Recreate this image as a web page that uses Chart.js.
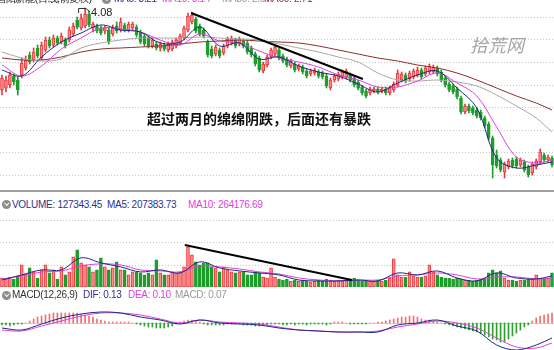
<!DOCTYPE html>
<html>
<head>
<meta charset="utf-8">
<script src="https://cdn.jsdelivr.net/npm/chart.js@4.4.1/dist/chart.umd.min.js"></script>
<style>
  html, body { margin: 0; padding: 0; background: #fff; }
  #wrap { position: relative; width: 554px; height: 350px; overflow: hidden; font-family: "Liberation Sans", Arial, sans-serif; }
  #wrap canvas { position: absolute; left: 0; }
  .hd { position: absolute; font-size: 10px; line-height: 12px; white-space: nowrap; letter-spacing: -0.3px; }
  .ico { position: absolute; width: 9px; height: 9px; border-radius: 50%; background: #8c8c8c; }
  .ico:after { content: ''; position: absolute; left: 2.6px; top: 1.4px; width: 2.6px; height: 2.6px; border-right: 1.2px solid #fff; border-bottom: 1.2px solid #fff; transform: rotate(45deg); }
  .sep { position: absolute; left: 0; width: 554px; height: 2px; background: #a0a0a0; }
  .note { position: absolute; left: 147px; top: 108px; font: bold 14px "Noto Sans CJK SC", sans-serif; color: #111; white-space: nowrap; }
  .mark { position: absolute; left: 470px; top: 31px; font: italic 18px "Noto Sans CJK SC", sans-serif; color: #a6a6a6; white-space: nowrap; }
</style>
</head>
<body>
<div id="wrap">
  <canvas id="k-chart" width="554" height="189" style="top:0"></canvas>
  <canvas id="vol-chart" width="554" height="75" style="top:212px"></canvas>
  <canvas id="macd-chart" width="554" height="51" style="top:300px"></canvas>

  <div class="hd" style="left:-4px;top:-7px;color:#222;">国阳新能(日线,前复权)</div>
  <div class="ico" style="left:102px;top:-5px;"></div>
  <div class="hd" style="left:114px;top:-7px;color:#2b3190;">MA5: 3.21</div>
  <div class="hd" style="left:162px;top:-7px;color:#e040e0;">MA10: 3.14</div>
  <div class="hd" style="left:222px;top:-7px;color:#999;">MA30: 2.67</div>
  <div class="hd" style="left:264px;top:-7px;color:#8b2e2e;">MA60: 2.71</div>

  <div class="sep" style="top:190px;"></div>

  <div class="ico" style="left:2px;top:200px;"></div>
  <div class="hd" style="left:12px;top:199px;color:#2b3190;">VOLUME: 127343.45</div>
  <div class="hd" style="left:107px;top:199px;color:#2b3190;">MA5: 207383.73</div>
  <div class="hd" style="left:188px;top:199px;color:#e040e0;">MA10: 264176.69</div>

  <div class="ico" style="left:2px;top:291px;"></div>
  <div class="hd" style="left:12px;top:289px;color:#333;">MACD(12,26,9)</div>
  <div class="hd" style="left:83px;top:289px;color:#2b3190;">DIF: 0.13</div>
  <div class="hd" style="left:128px;top:289px;color:#e040e0;">DEA: 0.10</div>
  <div class="hd" style="left:175px;top:289px;color:#999;">MACD: 0.07</div>

  <div class="note">超过两月的绵绵阴跌，后面还有暴跌</div>
  <div class="mark">拾荒网</div>
</div>

<script>
/* 日K + 成交量 + MACD 三栏图 */

// ---- 日K (price) ----
var open = [
  3.26,3.28,3.31,3.40,3.36,3.41,3.48,3.61,3.56,3.68,
  3.58,3.66,3.76,3.71,3.78,3.74,3.76,3.76,3.82,3.96,
  3.88,3.90,4.02,3.88,3.90,3.88,3.85,3.86,3.82,3.90,
  3.86,3.91,3.86,3.88,3.89,3.84,3.80,3.78,3.70,3.72,
  3.68,3.71,3.66,3.67,3.70,3.73,3.78,3.86,3.94,3.97,
  3.90,3.86,3.74,3.67,3.62,3.66,3.63,3.70,3.73,3.76,
  3.72,3.75,3.73,3.68,3.62,3.58,3.45,3.51,3.59,3.62,
  3.66,3.60,3.57,3.50,3.52,3.47,3.49,3.45,3.42,3.43,
  3.44,3.43,3.40,3.28,3.36,3.37,3.39,3.39,3.41,3.38,
  3.34,3.29,3.25,3.23,3.25,3.27,3.25,3.27,3.23,3.26,
  3.31,3.36,3.41,3.37,3.39,3.41,3.46,3.42,3.44,3.44,
  3.48,3.44,3.38,3.32,3.30,3.27,3.18,3.04,3.10,3.08,
  3.06,3.04,2.98,2.92,2.78,2.61,2.56,2.44,2.49,2.56,
  2.57,2.51,2.54,2.49,2.43,2.49,2.54,2.61,2.56,2.58
];
var high = [
  3.41,3.40,3.44,3.42,3.39,3.58,3.60,3.64,3.68,3.71,
  3.74,3.79,3.79,3.81,3.80,3.83,3.78,3.89,3.93,3.99,
  4.02,4.08,4.05,3.94,3.92,3.90,3.90,3.88,3.91,3.94,
  3.98,3.93,3.94,3.94,3.91,3.86,3.82,3.80,3.78,3.74,
  3.74,3.73,3.74,3.76,3.78,3.82,3.90,4.03,4.04,3.99,
  3.92,3.88,3.76,3.70,3.71,3.68,3.72,3.79,3.80,3.78,
  3.79,3.77,3.75,3.70,3.64,3.60,3.54,3.61,3.68,3.71,
  3.68,3.62,3.59,3.57,3.54,3.52,3.51,3.47,3.47,3.48,
  3.46,3.45,3.42,3.38,3.42,3.44,3.46,3.47,3.43,3.40,
  3.36,3.31,3.27,3.29,3.29,3.29,3.29,3.29,3.30,3.34,
  3.46,3.44,3.43,3.45,3.47,3.49,3.48,3.50,3.52,3.51,
  3.50,3.46,3.40,3.34,3.32,3.29,3.20,3.12,3.12,3.10,
  3.08,3.06,3.00,2.94,2.80,2.66,2.58,2.54,2.57,2.58,
  2.59,2.58,2.56,2.51,2.54,2.57,2.67,2.63,2.61,2.60
];
var low = [
  3.21,3.24,3.28,3.31,3.21,3.38,3.46,3.52,3.54,3.58,
  3.56,3.64,3.68,3.69,3.71,3.72,3.68,3.74,3.80,3.87,
  3.86,3.88,3.89,3.84,3.83,3.81,3.82,3.72,3.80,3.83,
  3.84,3.84,3.84,3.86,3.79,3.72,3.70,3.68,3.68,3.66,
  3.65,3.65,3.64,3.65,3.68,3.71,3.76,3.84,3.92,3.83,
  3.80,3.78,3.59,3.58,3.60,3.58,3.61,3.68,3.71,3.68,
  3.70,3.68,3.62,3.59,3.50,3.44,3.43,3.49,3.57,3.60,
  3.56,3.53,3.49,3.48,3.44,3.45,3.42,3.38,3.40,3.41,
  3.38,3.37,3.28,3.26,3.34,3.35,3.37,3.37,3.34,3.29,
  3.26,3.21,3.18,3.21,3.23,3.22,3.23,3.21,3.21,3.24,
  3.29,3.34,3.33,3.35,3.37,3.39,3.37,3.40,3.42,3.42,
  3.40,3.34,3.29,3.24,3.22,3.17,3.02,3.02,3.03,3.01,
  2.98,2.96,2.88,2.76,2.38,2.48,2.44,2.38,2.47,2.48,
  2.48,2.49,2.44,2.39,2.41,2.47,2.52,2.54,2.54,2.49
];
var close = [
  3.38,3.36,3.41,3.34,3.26,3.53,3.56,3.54,3.64,3.60,
  3.71,3.76,3.70,3.78,3.73,3.80,3.70,3.86,3.90,3.89,
  3.98,4.02,3.91,3.92,3.85,3.83,3.88,3.74,3.88,3.85,
  3.94,3.86,3.92,3.92,3.81,3.74,3.72,3.70,3.76,3.68,
  3.72,3.67,3.72,3.74,3.76,3.80,3.88,4.00,4.01,3.85,
  3.82,3.80,3.61,3.60,3.69,3.60,3.70,3.77,3.78,3.70,
  3.77,3.70,3.64,3.61,3.52,3.46,3.52,3.59,3.66,3.69,
  3.58,3.55,3.51,3.55,3.46,3.50,3.44,3.40,3.45,3.46,
  3.40,3.39,3.30,3.36,3.40,3.42,3.44,3.45,3.36,3.31,
  3.28,3.23,3.20,3.27,3.27,3.24,3.27,3.23,3.28,3.32,
  3.43,3.42,3.35,3.43,3.45,3.46,3.39,3.48,3.50,3.49,
  3.42,3.36,3.31,3.26,3.24,3.19,3.04,3.10,3.05,3.03,
  3.00,2.98,2.90,2.78,2.51,2.50,2.46,2.52,2.55,2.50,
  2.50,2.56,2.46,2.41,2.52,2.55,2.64,2.56,2.59,2.51
];

// moving averages, read every 5th day
var maDays = [0,5,10,15,20,25,30,35,40,45,50,55,60,65,70,75,80,85,90,95,100,105,110,115,120,125,130,135,139];
var ma5 = [3.46,3.40,3.59,3.74,3.83,3.91,3.86,3.84,3.73,3.74,3.89,3.70,3.73,3.57,3.59,3.50,3.44,3.40,3.32,3.24,3.33,3.41,3.45,3.28,3.08,2.58,2.48,2.51,2.54];
var ma10 = [3.51,3.40,3.50,3.67,3.78,3.88,3.87,3.84,3.76,3.71,3.82,3.75,3.73,3.65,3.58,3.54,3.49,3.41,3.36,3.29,3.29,3.35,3.43,3.33,3.20,2.89,2.59,2.53,2.56];
var ma30 = [3.64,3.58,3.55,3.57,3.68,3.73,3.76,3.78,3.78,3.78,3.79,3.78,3.77,3.76,3.72,3.68,3.64,3.59,3.54,3.43,3.36,3.35,3.36,3.34,3.30,3.21,3.10,2.98,2.84];
var ma60 = [3.58,3.56,3.56,3.59,3.64,3.67,3.68,3.69,3.70,3.72,3.74,3.75,3.76,3.75,3.74,3.73,3.70,3.66,3.62,3.58,3.55,3.51,3.48,3.43,3.36,3.28,3.20,3.13,3.06];

var priceGrid = [3.99, 3.765, 3.54, 3.315, 3.09, 2.865, 2.64, 2.415];
var priceTrendDays = [47.8, 91.2];
var priceTrend = [4.03, 3.37];

// ---- 成交量 ----
var volume = [
  81000,72000,90000,72000,99000,198000,117000,171000,135000,81000,
  153000,198000,126000,153000,72000,180000,108000,135000,270000,333000,
  216000,198000,180000,135000,153000,261000,180000,153000,171000,225000,
  153000,153000,108000,135000,135000,126000,108000,126000,108000,243000,
  126000,108000,108000,135000,126000,135000,180000,360000,288000,225000,
  198000,216000,216000,180000,171000,135000,180000,153000,135000,126000,
  135000,135000,108000,108000,135000,126000,90000,81000,171000,90000,
  72000,63000,72000,54000,63000,54000,63000,54000,45000,54000,
  63000,54000,72000,63000,54000,63000,54000,63000,72000,81000,
  63000,54000,63000,54000,54000,63000,54000,63000,81000,252000,
  108000,90000,90000,135000,99000,90000,90000,99000,198000,135000,
  108000,90000,81000,81000,72000,81000,72000,63000,63000,54000,
  63000,72000,72000,126000,153000,126000,144000,81000,63000,63000,
  54000,63000,63000,72000,72000,108000,81000,72000,81000,127343
];
var volMa5 = [63000,108000,153000,153000,261000,216000,180000,135000,153000,126000,225000,171000,144000,126000,108000,63000,54000,54000,63000,54000,126000,108000,144000,81000,54000,126000,81000,72000,99000];
var volMa10 = [72000,99000,135000,144000,189000,207000,198000,153000,144000,135000,189000,180000,162000,135000,117000,81000,63000,54000,63000,63000,99000,108000,126000,108000,72000,90000,90000,72000,81000];
var volGrid = [200000, 400000, 600000];
var volTrendDays = [46.2, 88.4];
var volTrend = [376000, 62000];

// ---- MACD ----
var macdHist = [
  -0.01,-0.01,-0.015,-0.01,-0.005,-0.005,0,0.01,0.02,0.03,
  0.035,0.04,0.045,0.05,0.05,0.05,0.05,0.05,0.05,0.05,
  0.045,0.04,0.035,0.03,0.02,0.015,0.01,0.005,0.005,0.005,
  0.005,0.005,0.005,0,-0.005,-0.01,-0.015,-0.02,-0.02,-0.025,
  -0.025,-0.025,-0.02,-0.015,-0.005,0.005,0.01,0.015,0.015,0.01,
  0.005,-0.005,-0.01,-0.01,-0.01,-0.01,-0.01,-0.005,-0.005,-0.005,
  -0.005,-0.01,-0.01,-0.01,-0.015,-0.015,-0.01,-0.01,-0.005,-0.005,
  -0.005,-0.01,-0.01,-0.005,-0.01,-0.005,-0.005,-0.01,-0.005,-0.005,
  -0.005,-0.005,-0.01,-0.005,0.005,0.005,0.005,0,-0.005,-0.005,
  -0.005,-0.005,-0.005,0,0,0.005,0.005,0.01,0.015,0.02,
  0.025,0.03,0.03,0.035,0.035,0.03,0.02,0.015,0.015,0.01,
  0.005,0,-0.005,-0.01,-0.015,-0.02,-0.025,-0.03,-0.035,-0.04,
  -0.045,-0.05,-0.06,-0.07,-0.08,-0.085,-0.095,-0.095,-0.08,-0.065,
  -0.05,-0.035,-0.02,-0.01,0.01,0.025,0.035,0.04,0.045,0.05
];
var dif = [-0.025,-0.035,-0.005,0.025,0.045,0.055,0.05,0.03,0.015,-0.005,0.015,0,-0.005,-0.01,-0.025,-0.035,-0.04,-0.045,-0.045,-0.045,-0.01,0,0.015,-0.015,-0.04,-0.11,-0.135,-0.11,-0.075];
var dea = [-0.035,-0.04,-0.015,0.01,0.035,0.05,0.05,0.04,0.02,0,0.015,0.005,0,-0.005,-0.02,-0.035,-0.04,-0.045,-0.045,-0.04,-0.02,-0.005,0.01,0,-0.025,-0.075,-0.12,-0.125,-0.1];

var UP_FILL = '#ff8a8a', UP_LINE = '#e8383d', DOWN = '#1f9d2c';
var N = close.length;

var isUp = close.map(function (c, i) { return c >= open[i]; });
var fills = isUp.map(function (u) { return u ? UP_FILL : DOWN; });
var lines = isUp.map(function (u) { return u ? UP_LINE : DOWN; });

function pts(xs, ys) {
  return xs.map(function (x, i) { return { x: x, y: ys[i] }; });
}

function maLine(xs, ys, color, order) {
  return { type: 'line', data: pts(xs, ys), borderColor: color, borderWidth: 1, pointRadius: 0, tension: 0.35, order: order };
}

function trendLine(xs, ys) {
  return { type: 'line', data: pts(xs, ys), borderColor: '#000', borderWidth: 2, pointRadius: 0, tension: 0, order: 0 };
}

var dottedGrid = {
  id: 'dottedGrid',
  beforeDatasetsDraw: function (chart, args, opts) {
    if (!opts.values) return;
    var ctx = chart.ctx, y = chart.scales.y, area = chart.chartArea;
    ctx.save();
    ctx.strokeStyle = opts.color;
    ctx.lineWidth = 1;
    ctx.setLineDash(opts.dash);
    opts.values.forEach(function (v) {
      var py = Math.round(y.getPixelForValue(v)) + 0.5;
      ctx.beginPath();
      ctx.moveTo(area.left, py);
      ctx.lineTo(area.right, py);
      ctx.stroke();
    });
    ctx.restore();
  }
};

// 最高价标注
var highMark = {
  id: 'highMark',
  afterDatasetsDraw: function (chart) {
    var top = 0;
    high.forEach(function (h, i) { if (h > high[top]) top = i; });
    var px = chart.scales.x.getPixelForValue(top), py = chart.scales.y.getPixelForValue(high[top]);
    var ctx = chart.ctx;
    ctx.save();
    ctx.strokeStyle = '#333';
    ctx.lineWidth = 1;
    ctx.beginPath();
    ctx.moveTo(px - 6.5, py + 5);
    ctx.lineTo(px - 6.5, py + 0.5);
    ctx.lineTo(px + 1, py + 0.5);
    ctx.lineTo(px + 5, py + 4);
    ctx.stroke();
    ctx.fillStyle = '#222';
    ctx.font = '11px "Liberation Sans", Arial, sans-serif';
    ctx.textBaseline = 'middle';
    ctx.fillText(high[top].toFixed(2), px + 6, py + 5);
    ctx.restore();
  }
};

function makeChart(id, datasets, yMin, yMax, grid, extra) {
  return new Chart(document.getElementById(id), {
    type: 'bar',
    data: { datasets: datasets },
    plugins: [dottedGrid].concat(extra || []),
    options: {
      responsive: false,
      animation: false,
      devicePixelRatio: 1,
      events: [],
      layout: { padding: 0 },
      plugins: { legend: { display: false }, tooltip: { enabled: false }, dottedGrid: grid },
      scales: {
        x: { type: 'linear', min: -0.5, max: N - 0.5, offset: false, display: false },
        y: { min: yMin, max: yMax, display: false }
      }
    }
  });
}

var days = close.map(function (c, i) { return i; });

makeChart('k-chart', [
  trendLine(priceTrendDays, priceTrend),
  maLine(maDays, ma5, '#1c2a80', 1),
  maLine(maDays, ma10, '#e040e0', 2),
  maLine(maDays, ma30, '#a8a8a8', 3),
  maLine(maDays, ma60, '#8b2e2e', 4),
  {
    data: days.map(function (i) { return { x: i, y: [open[i], close[i]] }; }),
    backgroundColor: fills, borderColor: lines, borderWidth: 1, borderSkipped: false,
    barThickness: 3, minBarLength: 1, grouped: false, order: 10
  },
  {
    data: days.map(function (i) { return { x: i, y: [low[i], high[i]] }; }),
    backgroundColor: lines, borderWidth: 0, barThickness: 1, grouped: false, order: 11
  }
], 2.27, 4.16, { values: priceGrid, color: '#c8c8c8', dash: [1, 2] }, [highMark]);

makeChart('vol-chart', [
  trendLine(volTrendDays, volTrend),
  maLine(maDays, volMa5, '#1c2a80', 1),
  maLine(maDays, volMa10, '#e040e0', 2),
  {
    data: days.map(function (i) { return { x: i, y: volume[i] }; }),
    backgroundColor: fills, borderColor: lines, borderWidth: 1, borderSkipped: false,
    barThickness: 3, grouped: false, order: 10
  }
], 0, 672000, { values: volGrid, color: '#c8c8c8', dash: [1, 2] });

makeChart('macd-chart', [
  maLine(maDays, dif, '#1c2a80', 1),
  maLine(maDays, dea, '#e040e0', 2),
  {
    data: days.map(function (i) { return { x: i, y: macdHist[i] }; }),
    backgroundColor: macdHist.map(function (v) { return v >= 0 ? '#f07070' : '#2ea02e'; }),
    borderWidth: 0, barThickness: 1, grouped: false, order: 10
  }
], -0.14, 0.115, { values: [0], color: '#d0d0d0', dash: [] });
</script>
</body>
</html>
